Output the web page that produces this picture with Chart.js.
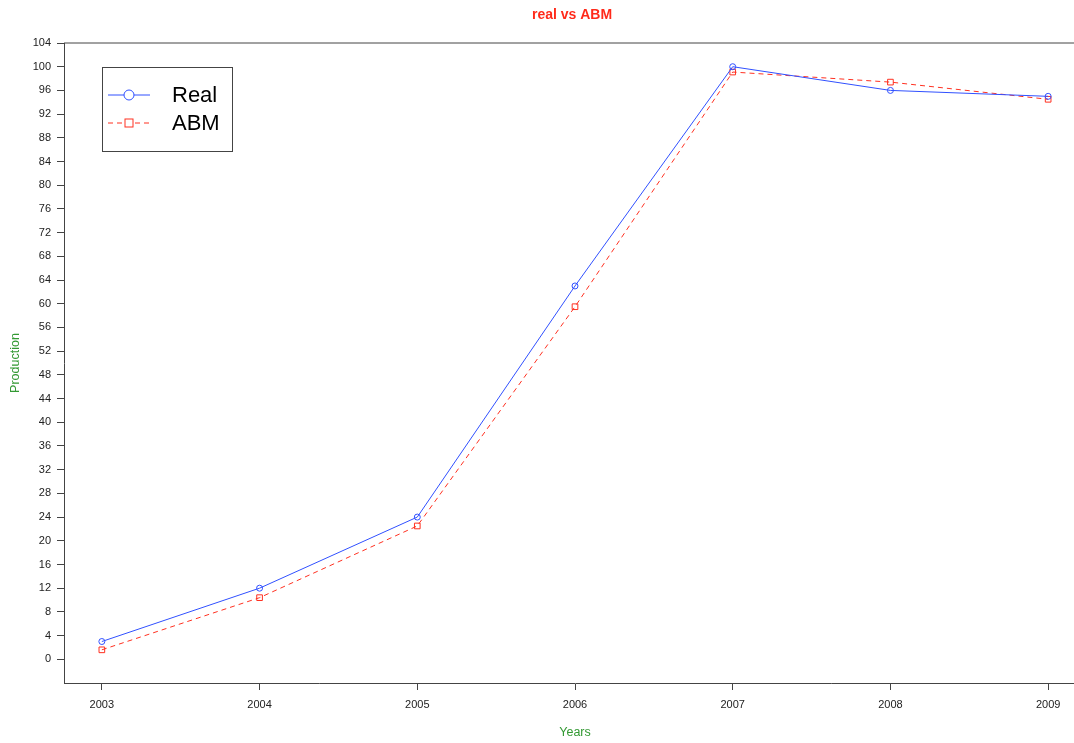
<!DOCTYPE html>
<html>
<head>
<meta charset="utf-8">
<script src="https://cdn.jsdelivr.net/npm/chart.js@4.4.1/dist/chart.umd.min.js"></script>
<style>
  html, body { margin: 0; padding: 0; background: #fff; overflow: hidden; }
  #wrap { width: 1100px; height: 743px; }
</style>
</head>
<body>
<div id="wrap"><canvas id="prodChart"></canvas></div>
<script>
const years = [2003, 2004, 2005, 2006, 2007, 2008, 2009];
const realValues = [3, 12, 24, 63, 100, 96, 95];
const abmValues = [1.6, 10.4, 22.5, 59.5, 99.1, 97.4, 94.5];
const yTicks = [0, 4, 8, 12, 16, 20, 24, 28, 32, 36, 40, 44, 48, 52, 56, 60, 64, 68, 72, 76, 80, 84, 88, 92, 96, 100, 104];

const FONT = "'Liberation Sans', Arial, Helvetica, sans-serif";
const BLUE = "#3050ff";
const RED = "#ff3020";
const AXIS = "#444";

// R style: title over plot, full box, legend inside the plot
const rPlot = {
    id: "rPlot",
    afterDraw(chart) {
        const ctx = chart.ctx;
        const ca = chart.chartArea;
        ctx.save();

        ctx.fillStyle = "#ff2a1a";
        ctx.font = "bold 14px " + FONT;
        ctx.textAlign = "center";
        ctx.textBaseline = "middle";
        ctx.fillText("real vs ABM", (ca.left + ca.right) / 2 - 3, 15);

        ctx.strokeStyle = AXIS;
        ctx.lineWidth = 1;
        ctx.beginPath();
        ctx.moveTo(ca.left, ca.top);
        ctx.lineTo(ca.right, ca.top);
        ctx.lineTo(ca.right, ca.bottom);
        ctx.stroke();

        const x = ca.left + 38, y = ca.top + 24;
        ctx.strokeStyle = AXIS;
        ctx.strokeRect(x + 0.5, y + 0.5, 130, 84);

        chart.data.datasets.forEach((ds, i) => {
            const ry = y + 28 + i * 28;
            ctx.strokeStyle = ds.borderColor;
            ctx.setLineDash(ds.borderDash || []);
            ctx.beginPath();
            ctx.moveTo(x + 6, ry);
            ctx.lineTo(x + 48, ry);
            ctx.stroke();
            ctx.setLineDash([]);
            ctx.fillStyle = "#fff";
            if (ds.pointStyle === "rect") {
                ctx.fillRect(x + 23, ry - 4, 8, 8);
                ctx.strokeRect(x + 23, ry - 4, 8, 8);
            } else {
                ctx.beginPath();
                ctx.arc(x + 27, ry, 5, 0, Math.PI * 2);
                ctx.fill();
                ctx.stroke();
            }
            ctx.fillStyle = "#000";
            ctx.font = "22px " + FONT;
            ctx.textAlign = "left";
            ctx.textBaseline = "middle";
            ctx.fillText(ds.label, x + 70, ry + 1);
        });
        ctx.restore();
    }
};

new Chart(document.getElementById("prodChart"), {
    type: "line",
    data: {
        datasets: [{
            label: "Real",
            data: years.map((yr, i) => ({ x: yr, y: realValues[i] })),
            borderColor: BLUE,
            borderWidth: 1,
            pointStyle: "circle",
            pointRadius: 3,
            pointBorderWidth: 1,
            pointBorderColor: BLUE,
            pointBackgroundColor: "rgba(0,0,0,0)",
            tension: 0
        }, {
            label: "ABM",
            data: years.map((yr, i) => ({ x: yr, y: abmValues[i] })),
            borderColor: RED,
            borderWidth: 1,
            borderDash: [5, 4],
            pointStyle: "rect",
            pointRadius: 4,
            pointBorderWidth: 1,
            pointBorderColor: RED,
            pointBackgroundColor: "rgba(0,0,0,0)",
            tension: 0
        }]
    },
    options: {
        responsive: true,
        maintainAspectRatio: false,
        animation: false,
        layout: { padding: { top: 43, right: 14, bottom: 0, left: 0 } },
        plugins: {
            legend: { display: false },
            title: { display: false },
            tooltip: { enabled: false }
        },
        scales: {
            x: {
                type: "linear",
                min: 2002.76,
                max: 2009.24,
                afterBuildTicks: s => { s.ticks = years.map(v => ({ value: v })); },
                afterFit: s => { s.height = 60; },
                grid: { drawOnChartArea: false, drawTicks: true, tickLength: 7, tickColor: AXIS },
                border: { display: true, color: AXIS },
                ticks: {
                    autoSkip: false, maxRotation: 0, padding: 8, color: "#222",
                    font: { family: FONT, size: 11 },
                    callback: v => String(v)
                },
                title: {
                    display: true, text: "Years", color: "#339933",
                    font: { family: FONT, size: 12.5 },
                    padding: { top: 0, bottom: 3 }
                }
            },
            y: {
                min: -4,
                max: 104,
                afterBuildTicks: s => { s.ticks = yTicks.map(v => ({ value: v })); },
                afterFit: s => { s.width = 64; },
                grid: { drawOnChartArea: false, drawTicks: true, tickLength: 7, tickColor: AXIS },
                border: { display: true, color: AXIS },
                ticks: {
                    autoSkip: false, padding: 6, color: "#222",
                    font: { family: FONT, size: 11 }
                },
                title: {
                    display: true, text: "Production", color: "#339933",
                    font: { family: FONT, size: 12.5 },
                    padding: { top: 8, bottom: 0 }
                }
            }
        }
    },
    plugins: [rPlot]
});
</script>
</body>
</html>
